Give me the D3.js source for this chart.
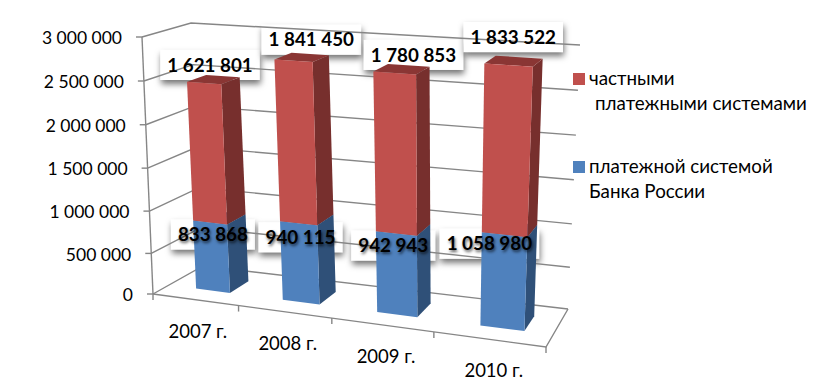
<!DOCTYPE html>
<html>
<head>
<meta charset="utf-8">
<style>
  html, body { margin: 0; background: #fff; }
  text { font-family: Lato, "Open Sans", sans-serif; fill: #000; }
  .tick-label { font-size: 17.5px; }
  .year { font-size: 18.5px; }
  .legend text { font-size: 18.8px; }
  .value { font-size: 18.8px; font-weight: 700; text-anchor: middle; }
  .value-low { text-shadow: 1px 2px 3px rgba(0,0,0,.65); }
</style>
</head>
<body>
<svg id="chart" width="823" height="392"></svg>
<script src="https://cdn.jsdelivr.net/npm/d3@7"></script>
<script>
const years = ['2007 г.', '2008 г.', '2009 г.', '2010 г.'];
const bankValues = [833868, 940115, 942943, 1058980];
const privateValues = [1621801, 1841450, 1780853, 1833522];
const tickValues = [0, 500000, 1000000, 1500000, 2000000, 2500000, 3000000];

// pixel corners of the 3d box, order: front-left, front-right, back-right, back-left
const FLOOR = [[153, 294], [546, 347], [568, 309], [203, 266]];
const CEIL = [[142, 37], [558, 65], [580, 45], [191, 23]];

// label offset from the top centre of the bar, dragged by hand in the original
const TOP_SHIFT = [[6, -18], [18, -21], [19, -18], [5, -28]];
const LOW_SHIFT = [[3, 12], [2, 14], [-3, 12], [-15, 9]];

const RED = {front: '#c0504d', side: '#772f2d', top: '#8a3634'};
const BLUE = {front: '#4f81bd', side: '#2f5078', top: '#2f5078'};
const GRID = '#868686';

const fmt = v => d3.format(',')(v).replace(/,/g, ' ');

// unit square -> quad
function homography(q) {
  let [[x0, y0], [x1, y1], [x2, y2], [x3, y3]] = q;
  let dx1 = x1 - x2, dx2 = x3 - x2, sx = x0 - x1 + x2 - x3;
  let dy1 = y1 - y2, dy2 = y3 - y2, sy = y0 - y1 + y2 - y3;
  let den = dx1 * dy2 - dx2 * dy1;
  let g = (sx * dy2 - dx2 * sy) / den;
  let h = (dx1 * sy - sx * dy1) / den;
  let a = x1 - x0 + g * x1, b = x3 - x0 + h * x3;
  let d = y1 - y0 + g * y1, e = y3 - y0 + h * y3;
  return (u, w) => {
    let k = g * u + h * w + 1;
    return [(a * u + b * w + x0) / k, (d * u + e * w + y0) / k];
  };
}

const floor = homography(FLOOR);
const ceil = homography(CEIL);

const x = d3.scaleBand().domain(years).range([0.008, 1.012]).paddingInner(0.6).paddingOuter(0.3);
// the camera looks from above, so the upper ticks open up a little
const v = d3.scalePow().exponent(1.03).domain([0, 3000000]).range([0, 1]);
const DEPTH = [0.3, 0.7];

// category position, value, depth -> screen
function project(u, val, w) {
  let a = floor(u, w), b = ceil(u, w), t = v(val);
  return [a[0] + (b[0] - a[0]) * t, a[1] + (b[1] - a[1]) * t];
}

const svg = d3.select('#chart');
const line = d3.line();

let defs = svg.append('defs');
let shadow = defs.append('filter').attr('id', 'box-shadow')
  .attr('x', '-20%').attr('y', '-30%').attr('width', '140%').attr('height', '170%');
shadow.append('feDropShadow')
  .attr('dx', 1).attr('dy', 4).attr('stdDeviation', 3)
  .attr('flood-color', '#000').attr('flood-opacity', 0.55);

let boxes = svg.append('g');
let walls = svg.append('g').attr('fill', 'none').attr('stroke', GRID).attr('stroke-width', 1.4);
let bars = svg.append('g');
let labels = svg.append('g');

// gridlines: side wall then back wall
tickValues.forEach(t => {
  walls.append('path').attr('d', line([project(0, t, 0), project(0, t, 1), project(1, t, 1)]));
  let p = project(0, t, 0);
  walls.append('path').attr('d', line([p, [p[0] - 6, p[1]]]));
  labels.append('text').attr('class', 'tick-label')
    .attr('x', p[0] - 20).attr('y', p[1] + 1).attr('dy', '0.35em')
    .attr('text-anchor', 'end').text(fmt(t));
});
walls.append('path').attr('d', line([project(0, 0, 0), project(0, 3000000, 0)]));
walls.append('path').attr('d', line([project(0, 0, 0), project(1, 0, 0), project(1, 0, 1)]));

// x ticks and names
d3.range(years.length + 1).forEach(i => {
  let p = floor(i / years.length, 0);
  walls.append('path').attr('d', line([p, [p[0], p[1] + 6]]));
});
years.forEach(y => {
  let p = floor(x(y) + x.bandwidth() / 2, 0);
  labels.append('text').attr('class', 'year')
    .attr('x', p[0]).attr('y', p[1] + 31).attr('dy', '0.35em')
    .attr('text-anchor', 'middle').text(y);
});

function drawSegment(y, from, to, c) {
  let u0 = x(y), u1 = x(y) + x.bandwidth();
  let [w0, w1] = DEPTH;
  bars.append('path').attr('fill', c.side)
    .attr('d', line([project(u1, from, w0), project(u1, from, w1), project(u1, to, w1), project(u1, to, w0)]) + 'Z');
  bars.append('path').attr('fill', c.top)
    .attr('d', line([project(u0, to, w0), project(u1, to, w0), project(u1, to, w1), project(u0, to, w1)]) + 'Z');
  bars.append('path').attr('fill', c.front)
    .attr('d', line([project(u0, from, w0), project(u1, from, w0), project(u1, to, w0), project(u0, to, w0)]) + 'Z');
}

function drawLabel(cx, cy, val, cls) {
  let t = labels.append('text').attr('class', 'value ' + cls)
    .attr('x', cx).attr('y', cy).attr('dy', '0.35em').text(fmt(val));
  let w = t.node().getComputedTextLength() + 14;
  boxes.append('rect')
    .attr('x', cx - w / 2).attr('y', cy - 15).attr('width', w).attr('height', 30)
    .attr('fill', '#fff').attr('filter', 'url(#box-shadow)');
}

years.forEach((y, i) => {
  let total = bankValues[i] + privateValues[i];
  drawSegment(y, 0, bankValues[i], BLUE);
  drawSegment(y, bankValues[i], total, RED);

  let mid = x(y) + x.bandwidth() / 2;
  let top = project(mid, total, DEPTH[0]);
  drawLabel(top[0] + TOP_SHIFT[i][0], top[1] + TOP_SHIFT[i][1], privateValues[i], 'value-top');
  let low = project(mid, bankValues[i], DEPTH[0]);
  drawLabel(low[0] + LOW_SHIFT[i][0], low[1] + LOW_SHIFT[i][1], bankValues[i], 'value-low');
});

// legend
let legend = svg.append('g').attr('class', 'legend');
legend.append('rect').attr('x', 573).attr('y', 73).attr('width', 12).attr('height', 12).attr('fill', RED.front);
legend.append('text').attr('x', 589).attr('y', 85).text('частными');
legend.append('text').attr('x', 595).attr('y', 110).text('платежными системами');
legend.append('rect').attr('x', 573).attr('y', 161).attr('width', 12).attr('height', 12).attr('fill', BLUE.front);
legend.append('text').attr('x', 589).attr('y', 173).text('платежной системой');
legend.append('text').attr('x', 589).attr('y', 198).text('Банка России');
</script>
</body>
</html>
